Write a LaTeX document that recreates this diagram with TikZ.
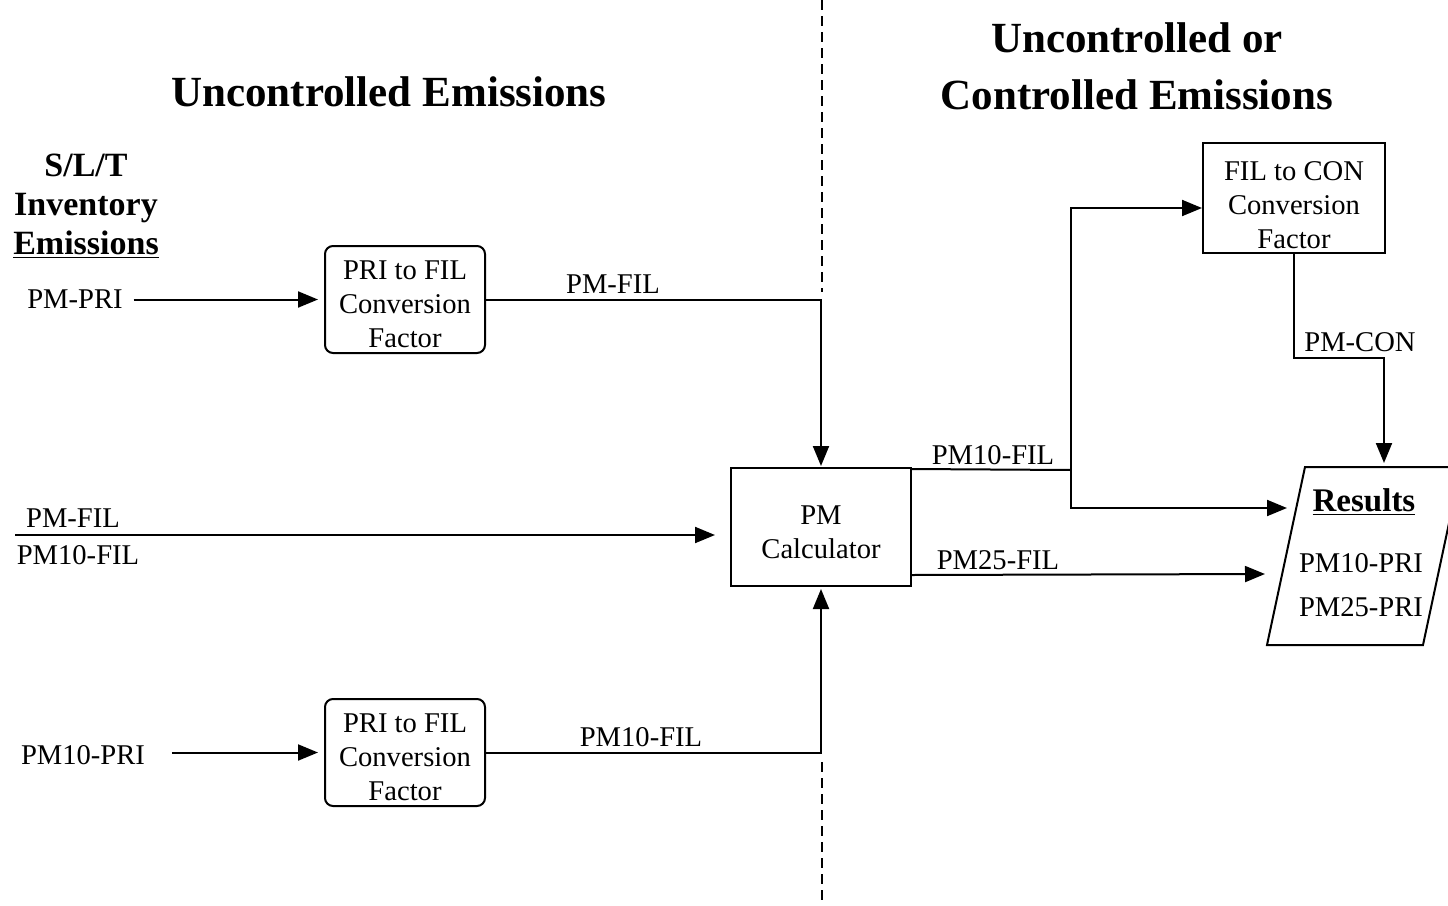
\documentclass[tikz,border=0pt]{standalone}
\usepackage{fontspec}
\setmainfont{Liberation Serif}
\usetikzlibrary{arrows.meta}
\newcommand{\toppad}[1]{\rule{0pt}{#1}}
\begin{document}
\begin{tikzpicture}[x=0.5pt,y=-0.5pt,
  line width=1pt,
  arr/.style={-{Triangle[length=10pt,width=8pt]}},
  lbl/.style={font=\fontsize{14.3}{17}\selectfont, inner sep=0pt},
  ttl/.style={font=\fontsize{21.5}{28.5}\selectfont\bfseries, align=center, inner sep=0pt},
  hdr/.style={font=\fontsize{17}{19.5}\selectfont\bfseries, align=center, inner sep=0pt},
  rbox/.style={draw, rounded corners=4pt, align=center, font=\fontsize{14.3}{17}\selectfont,
    minimum width=80pt, minimum height=53.5pt, inner sep=0pt},
  sbox/.style={draw, align=center, font=\fontsize{14.3}{17}\selectfont, inner sep=0pt},
  divider/.style={dash pattern=on 5pt off 3pt}
]
\useasboundingbox (0,0) rectangle (1448,906);

% dividers
\draw[divider] (822,0) -- (822,292);
\draw[divider] (822,762) -- (822,906);

% titles
\node[ttl] (t1) at (389,92) {Uncontrolled Emissions};
\node[ttl] (t2) at (1137,66) {Uncontrolled or\\Controlled Emissions};
\node[hdr] (inv) at (86,206) {S/L/T\\Inventory\\\underline{Emissions}};

% boxes
\node[rbox] (box1) at (405,299.5) {\toppad{14.5pt}PRI to FIL\\Conversion\\Factor};
\node[rbox] (box2) at (405,752.5) {\toppad{14.5pt}PRI to FIL\\Conversion\\Factor};
\node[sbox, minimum width=90pt, minimum height=59pt] (calc) at (821,527) {\toppad{15pt}PM\\Calculator};
\node[sbox, minimum width=91pt, minimum height=55pt] (filcon) at (1294,198) {\toppad{17pt}FIL to CON\\Conversion\\Factor};

% results parallelogram
\coordinate (r1) at (1305,467);
\coordinate (r2) at (1461,467);
\coordinate (r3) at (1423,645);
\coordinate (r4) at (1267,645);
\draw (r1) -- (r2) -- (r3) -- (r4) -- cycle;
\node[font=\fontsize{16.5}{19}\selectfont\bfseries, inner sep=0pt] (restitle) at (1364,502) {\underline{Results}};
\node[lbl, align=center] (resbody) at (1361,585) {PM10-PRI\\[5pt]PM25-PRI};

% input labels
\node[lbl] (pmpri) at (75,299) {PM-PRI};
\node[lbl] (pm10pri) at (83,755) {PM10-PRI};
\node[lbl] (pmfilL) at (73,518) {PM-FIL};
\node[lbl] (pm10filL) at (78,555) {PM10-FIL};

% connector labels
\node[lbl] (l1) at (613,284) {PM-FIL};
\node[lbl] (l2) at (641,737) {PM10-FIL};
\node[lbl] (l3) at (993,455) {PM10-FIL};
\node[lbl] (l4) at (998,560) {PM25-FIL};
\node[lbl] (l5) at (1360,342) {PM-CON};

% connectors
\draw[arr, shorten >=3pt] ([xshift=5pt]pmpri.east |- box1.west) -- (box1.west);
\draw[arr, shorten >=3pt] ([xshift=13pt]pm10pri.east |- box2.west) -- (box2.west);
\draw[arr, shorten >=0.5pt] (box1.east) -- (box1.east -| calc.north) -- (calc.north);
\draw[arr, shorten >=1pt] (box2.east) -- (box2.east -| calc.south) -- (calc.south);

\coordinate (inL) at (15,535);
\draw[arr, shorten >=7.5pt] (inL) -- (inL -| calc.west);

\coordinate (jmid) at (1071,470);
\coordinate (jtop) at (1071,208);
\coordinate (jbot) at (1071,508);
\coordinate (resin1) at (1287,508);
\coordinate (resin2) at (1265,574);
\draw ([yshift=-1pt]calc.north east) -- (jmid);
\draw[arr] (jbot) -- (jtop) -- (jtop -| filcon.west);
\draw[arr] (jtop) -- (jbot) -- (resin1);
\draw[arr] ([yshift=6pt]calc.south east) -- (resin2);

\coordinate (c1) at (1384,358);
\coordinate (rtop) at (1384,463);
\draw[arr] (filcon.south) |- (c1) -- (rtop);
\end{tikzpicture}
\end{document}
